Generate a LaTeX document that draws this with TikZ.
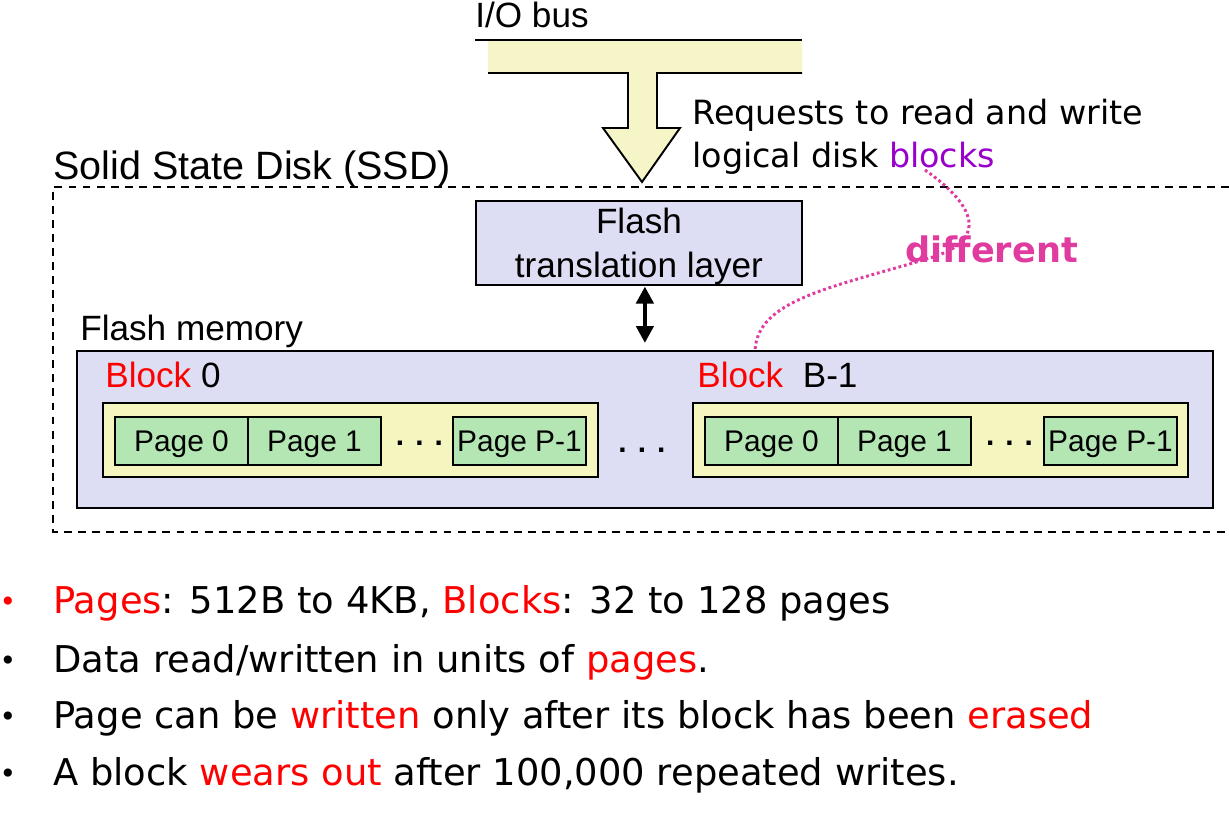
\documentclass[tikz,border=0pt]{standalone}
\usepackage{fontspec}
\setmainfont{Liberation Sans}
\newfontfamily\comicfont{DejaVu Sans}
\usetikzlibrary{arrows.meta, positioning}
\definecolor{memlav}{HTML}{DDDDF3}
\definecolor{blkyellow}{HTML}{F5F5C0}
\definecolor{busyellow}{HTML}{F5F5C8}
\definecolor{pagegreen}{HTML}{B3E6B3}
\definecolor{reqpurple}{HTML}{9900CC}
\definecolor{notepink}{HTML}{E03CA0}

\begin{document}
\begin{tikzpicture}[
    x=0.02cm, y=-0.02cm,
    box/.style={draw, line width=1.1pt, outer sep=0pt, inner sep=0pt, fill=memlav},
    blockbox/.style={draw, line width=1.1pt, outer sep=0pt, inner sep=0pt, fill=blkyellow, minimum width=9.9cm, minimum height=1.48cm},
    page/.style={draw, line width=1.1pt, outer sep=0pt, inner sep=0pt, fill=pagegreen, minimum width=2.66cm, minimum height=0.96cm, text depth=0pt, font=\fontsize{17}{20}\selectfont},
    txt/.style={anchor=base west, inner sep=0pt, font=\fontsize{20}{24}\selectfont},
    note/.style={anchor=base west, inner sep=0pt, font=\comicfont\fontsize{19}{23}\selectfont},
    bulletline/.style={anchor=base west, inner sep=0pt, font=\comicfont\fontsize{21}{25}\selectfont},
    bulletmark/.style={anchor=base, inner sep=0pt, font=\comicfont\fontsize{16}{20}\selectfont},
    ellip/.style={anchor=base, inner sep=0pt, font=\fontsize{17}{20}\selectfont\bfseries},
    link/.style={{Triangle[length=0.34cm,width=0.34cm]}-{Triangle[length=0.34cm,width=0.34cm]}, line width=2.5pt},
    hint/.style={notepink, line width=1.7pt, dash pattern=on 1.6pt off 1.6pt}
  ]
  \useasboundingbox (0,0) rectangle (1229,813);

  % I/O bus with the request arrow
  \node[txt] (bus) at (475,28) {I/O bus};
  \fill[busyellow] (488,40) -- (802,40) -- (802,73) -- (657,73) -- (657,128) -- (680,128) -- (642,182) -- (603,128) -- (628,128) -- (628,73) -- (488,73) -- cycle;
  \draw[line width=1.1pt] (475,40) -- (802,40);
  \draw[line width=1.1pt] (488,73) -- (628,73) -- (628,128) -- (603,128) -- (642,182) -- (680,128) -- (657,128) -- (657,73) -- (802,73);
  \node[note] (req1) at (692,125) {Requests to read and write};
  \node[note] (req2) at (692,168) {logical disk \textcolor{reqpurple}{blocks}};

  % SSD frame
  \node[txt, font=\fontsize{22.5}{26}\selectfont] (ssd) at (53,180) {Solid State Disk (SSD)};
  \draw[line width=1.1pt, dash pattern=on 4.5pt off 3.5pt] (1229,187) -| (53,532) -- (1229,532);

  % Translation layer and flash memory
  \node[box, anchor=north west, minimum width=6.52cm, minimum height=1.66cm, align=center, font=\fontsize{20}{25}\selectfont] (ftl) at (476,201) {\rule{0pt}{0.92em}Flash\\translation layer};
  \node[txt] (memlbl) at (80,341) {Flash memory};
  \node[box, anchor=north west, minimum width=22.72cm, minimum height=3.14cm] (mem) at (77,351) {};
  \draw[link, shorten <=0.04cm, shorten >=0.16cm] (ftl.south -| mem.north) -- (mem.north);

  % Block 0
  \node[txt] (lbl0) at (105,388) {\textcolor{red}{Block} 0};
  \node[blockbox, anchor=north west] (blk0) at (103,403) {};
  \node[page, anchor=north west] (p00) at (115,417) {Page 0};
  \node[page, right=0pt of p00] (p01) {Page 1};
  \node[ellip] (dots0) at (419.5,446) {. . .};
  \node[page, anchor=north west] (p0P) at (453,417) {Page P-1};

  \node[ellip] (dotsmid) at (642,453) {. . .};

  % Block B-1
  \node[txt] (lblB) at (697,388) {\textcolor{red}{Block}\ \ B-1};
  \node[blockbox, anchor=north west] (blkB) at (693,403) {};
  \node[page, anchor=north west] (pB0) at (705,417) {Page 0};
  \node[page, right=0pt of pB0] (pB1) {Page 1};
  \node[ellip] (dotsB) at (1009.5,446) {. . .};
  \node[page, anchor=north west] (pBP) at (1044,417) {Page P-1};

  % logical vs physical blocks
  \node[note, font=\comicfont\bfseries\fontsize{20}{24}\selectfont, text=notepink] (diff) at (905,263) {different};
  \coordinate (blkword) at (925,170);
  \coordinate (hook) at (755,351);
  \draw[hint] (blkword) .. controls (975,205) and (990,240) .. (930,258) .. controls (830,288) and (757,300) .. (hook);

  % Facts
  \node[bulletmark, text=red] (m1) at (8,611) {\textbullet};
  \node[bulletmark] (m2) at (8,670) {\textbullet};
  \node[bulletmark] (m3) at (8,726) {\textbullet};
  \node[bulletmark] (m4) at (8,783) {\textbullet};
  \node[bulletline] (b1) at (53,613) {\textcolor{red}{Pages}: 512B to 4KB, \textcolor{red}{Blocks}: 32 to 128 pages};
  \node[bulletline] (b2) at (53,672) {Data read/written in units of \textcolor{red}{pages}.};
  \node[bulletline] (b3) at (53,728) {Page can be \textcolor{red}{written} only after its block has been \textcolor{red}{erased}};
  \node[bulletline] (b4) at (53,785) {A block \textcolor{red}{wears out} after 100,000 repeated writes.};
\end{tikzpicture}
\end{document}
